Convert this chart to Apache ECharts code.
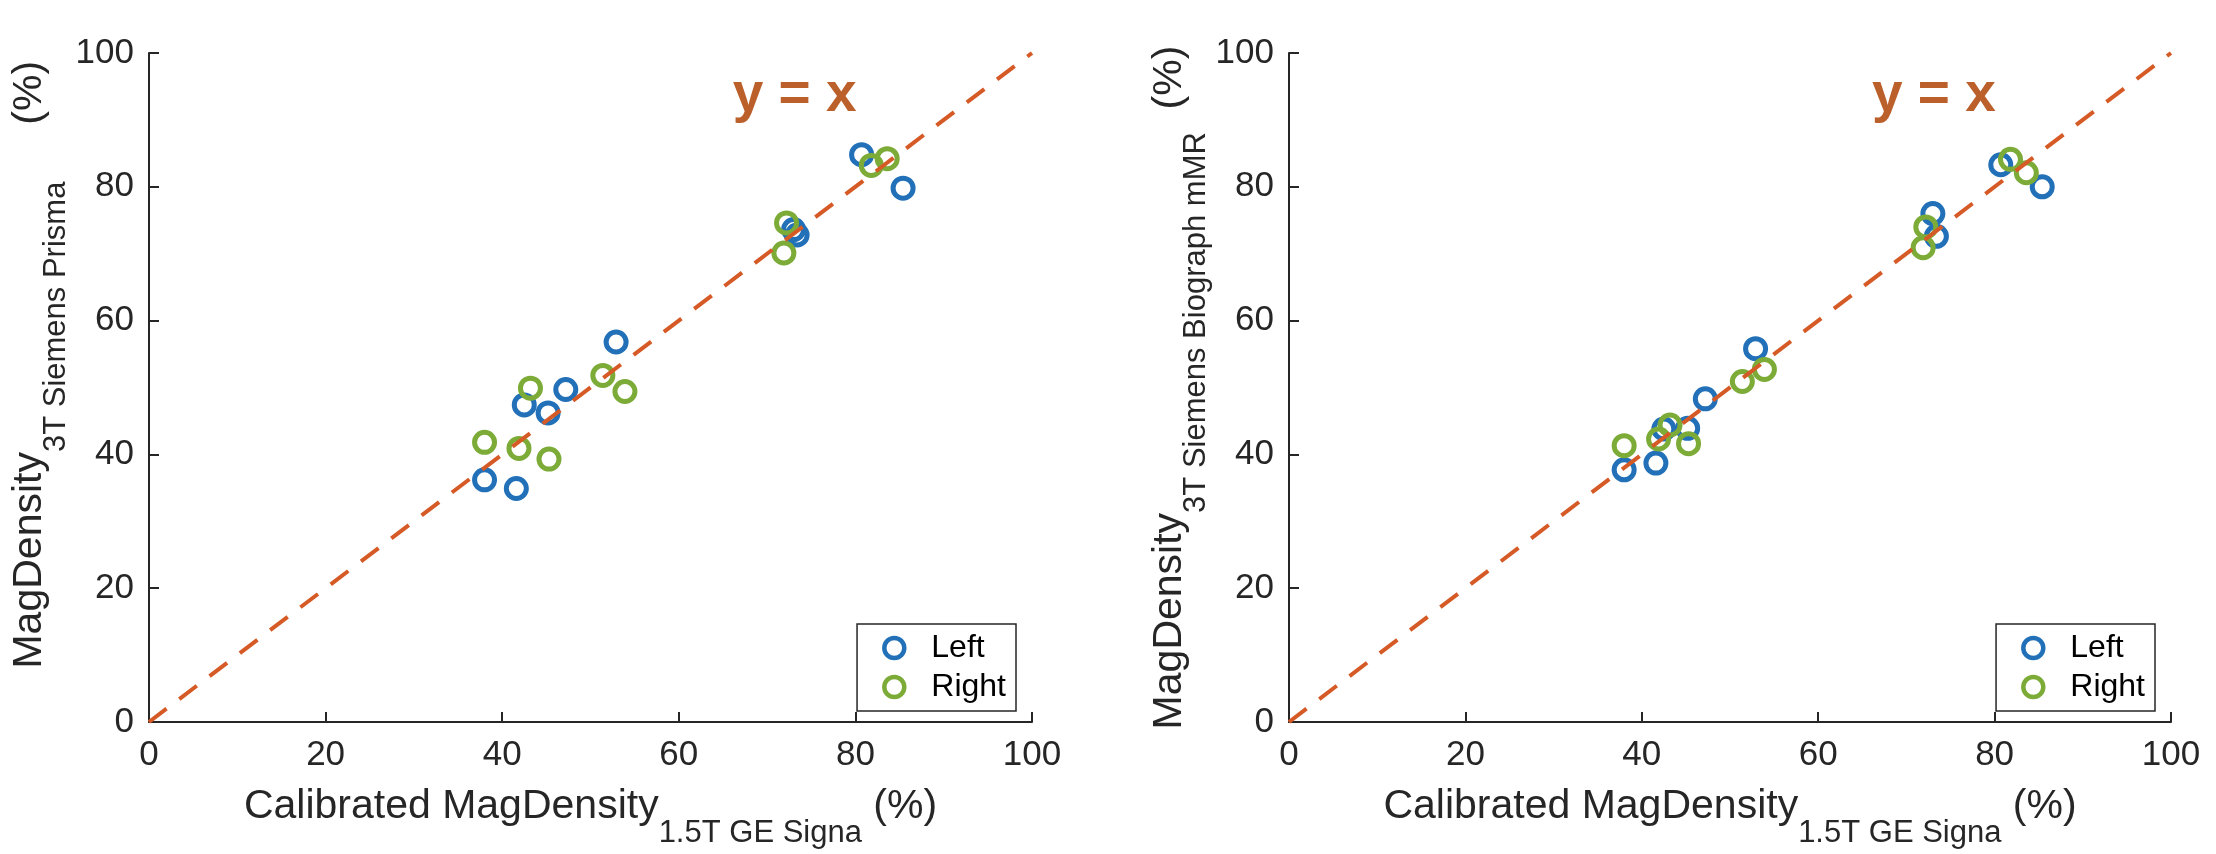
<!DOCTYPE html>
<html>
<head>
<meta charset="utf-8">
<script src="https://cdn.jsdelivr.net/npm/echarts@6/dist/echarts.min.js"></script>
<style>
  html, body { margin: 0; padding: 0; background: #fff; }
  #chart { width: 2216px; height: 854px; }
</style>
</head>
<body>
<div id="chart"></div>
<script>
// ---------- data ----------
// Left hemisphere (blue)
const leftX        = [38.0, 41.6, 42.5, 45.2, 47.2, 52.9, 73.0, 73.4, 80.7, 85.4];
const prismaLeftY  = [36.2, 34.9, 47.4, 46.2, 49.7, 56.8, 73.6, 72.8, 84.8, 79.8];
const mmrLeftY     = [37.7, 38.7, 43.8, 43.9, 48.3, 55.8, 76.0, 72.6, 83.3, 80.0];
// Right hemisphere (green)
const rightX       = [38.0, 41.9, 43.2, 45.3, 51.4, 53.9, 71.9, 72.2, 81.8, 83.6];
const prismaRightY = [41.8, 40.9, 49.9, 39.3, 51.8, 49.4, 70.1, 74.6, 83.2, 84.2];
const mmrRightY    = [41.3, 42.3, 44.4, 41.6, 50.9, 52.7, 70.9, 74.0, 84.1, 82.1];
// identity line end values and annotation anchor (data units)
const identityEnds = [0, 100];
const identityLabel = 'y = x';
const identityLabelAt = [66.1, 93.6];
// axes
const axisMin = 0, axisMax = 100, axisStep = 20;
const seriesNames = ['Left', 'Right'];
const xTitle = ['Calibrated MagDensity', '1.5T GE Signa', ' (%)'];
const yTitles = [
  ['    MagDensity', '3T Siemens Prisma', '     (%)'],
  ['MagDensity', '3T Siemens Biograph mMR', '  (%)']
];

// ---------- styles ----------
const FONT = '"Liberation Sans", Arial, Helvetica, sans-serif';
const AX = '#262626';
const BLUE = '#2170b8';
const GREEN = '#7cab37';
const ORANGE = '#d65a26';
const LABEL_ORANGE = '#bb5f2b';

const rich = {
  m: { fontSize: 41, lineHeight: 44, verticalAlign: 'top', color: AX, fontFamily: FONT },
  s: { fontSize: 31, lineHeight: 34, verticalAlign: 'top', padding: [32, 0, 0, 0], color: AX, fontFamily: FONT }
};
function titleText(parts) {
  return '{m|' + parts[0] + '}{s|' + parts[1] + '}{m|' + parts[2] + '}';
}

const grids = [
  { left: 149, top: 53, width: 883, height: 671 },
  { left: 1289, top: 53, width: 882, height: 671 }
];

function xAxisDef(i) {
  return {
    gridIndex: i, type: 'value', min: axisMin, max: axisMax, interval: axisStep,
    name: titleText(xTitle), nameLocation: 'middle', nameGap: 64,
    nameTextStyle: { rich: rich },
    axisLine: { onZero: false, lineStyle: { color: AX, width: 2 } },
    axisTick: { inside: true, length: 10, lineStyle: { color: AX, width: 2 } },
    axisLabel: { fontSize: 35, color: AX, fontFamily: FONT, margin: 16 },
    splitLine: { show: false }
  };
}
function yAxisDef(i) {
  return {
    gridIndex: i, type: 'value', min: axisMin, max: axisMax, interval: axisStep,
    name: titleText(yTitles[i]), nameLocation: 'middle', nameGap: 74, nameRotate: 90,
    nameTextStyle: { rich: rich },
    axisLine: { onZero: false, lineStyle: { color: AX, width: 2 } },
    axisTick: { inside: true, length: 10, lineStyle: { color: AX, width: 2 } },
    axisLabel: { fontSize: 35, color: AX, fontFamily: FONT, margin: 15 },
    splitLine: { show: false }
  };
}

function pairs(xs, ys) { return xs.map((x, k) => [x, ys[k]]); }

function scatter(name, i, xs, ys, color) {
  return {
    name: name, type: 'scatter', xAxisIndex: i, yAxisIndex: i,
    data: pairs(xs, ys), symbol: 'circle', symbolSize: 20, z: 2,
    itemStyle: { color: 'rgba(0,0,0,0)', borderColor: color, borderWidth: 5, opacity: 1 },
    emphasis: { disabled: true }, silent: true
  };
}
function identity(i) {
  return {
    type: 'line', xAxisIndex: i, yAxisIndex: i, z: 5, silent: true,
    data: [[identityEnds[0], identityEnds[0]], [identityEnds[1], identityEnds[1]]],
    symbol: 'none', lineStyle: { color: ORANGE, width: 4, type: [22, 16] },
    emphasis: { disabled: true }
  };
}
function legendDef(rightPx) {
  return {
    right: rightPx, top: 624, orient: 'vertical',
    backgroundColor: '#fff', borderColor: AX, borderWidth: 1.5,
    padding: [8, 10, 8, 25], itemGap: 7, itemWidth: 20, itemHeight: 20,
    selectedMode: false,
    textStyle: { fontSize: 32, lineHeight: 31, color: '#000', fontFamily: FONT, padding: [0, 0, 0, 22] },
    data: [
      { name: seriesNames[0], icon: 'circle', itemStyle: { color: 'rgba(0,0,0,0)', borderColor: BLUE, borderWidth: 4.5 } },
      { name: seriesNames[1], icon: 'circle', itemStyle: { color: 'rgba(0,0,0,0)', borderColor: GREEN, borderWidth: 4.5 } }
    ]
  };
}

const chart = echarts.init(document.getElementById('chart'), null, { renderer: 'canvas' });
chart.setOption({
  backgroundColor: '#fff',
  animation: false,
  grid: grids,
  xAxis: [xAxisDef(0), xAxisDef(1)],
  yAxis: [yAxisDef(0), yAxisDef(1)],
  legend: [legendDef(2216 - 1016), legendDef(2216 - 2155)],
  series: [
    scatter(seriesNames[0], 0, leftX, prismaLeftY, BLUE),
    scatter(seriesNames[1], 0, rightX, prismaRightY, GREEN),
    identity(0),
    scatter(seriesNames[0], 1, leftX, mmrLeftY, BLUE),
    scatter(seriesNames[1], 1, rightX, mmrRightY, GREEN),
    identity(1)
  ]
});

// annotation text, placed through the axes' scales
const graphics = [0, 1].map(i => {
  const p = chart.convertToPixel({ xAxisIndex: i, yAxisIndex: i }, identityLabelAt);
  return {
    type: 'text', x: p[0], y: p[1], z: 10,
    style: { text: identityLabel, fill: LABEL_ORANGE, font: 'bold 55px ' + FONT, align: 'left', verticalAlign: 'middle' }
  };
});
chart.setOption({ graphic: graphics });
</script>
</body>
</html>
